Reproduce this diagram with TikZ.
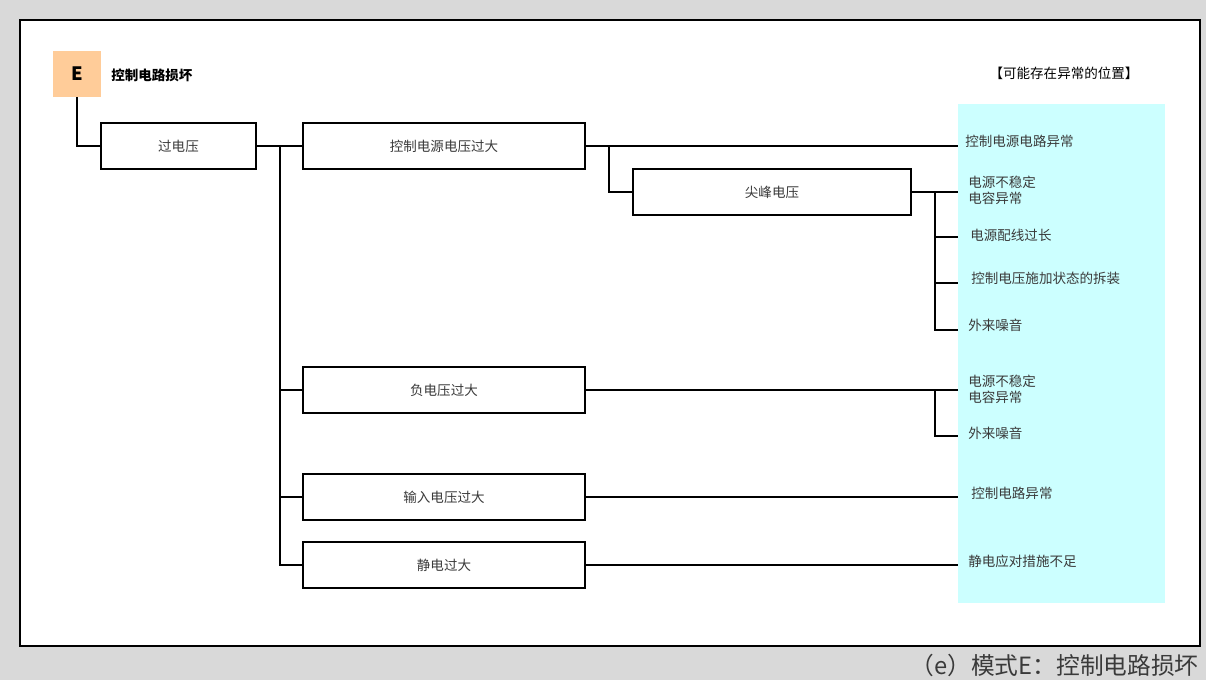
\documentclass[tikz,border=0pt]{standalone}
\usepackage{fontspec}
\setmainfont{Noto Sans CJK SC}
\definecolor{bggray}{HTML}{D9D9D9}
\definecolor{txtgray}{HTML}{3A3A3A}
\definecolor{epink}{HTML}{FFCC99}
\definecolor{zone}{HTML}{CCFFFF}
\begin{document}
\begin{tikzpicture}[
		x=0.02cm, y=-0.02cm,
		box/.style={draw=black, line width=0.7pt, fill=white, inner sep=0pt,
			minimum width=5.64cm, minimum height=0.92cm,
			font=\fontsize{7.7}{9}\selectfont, text=txtgray},
		cause/.style={anchor=west, inner sep=0pt, align=left,
			font=\fontsize{7.7}{9}\selectfont, text=txtgray},
		wire/.style={line width=1.1pt}
		]
		% --- Hintergrund und Rahmen ---
		\fill[bggray] (0,0) rectangle (1206,680);
		\draw[line width=1pt, fill=white] (20,20) rectangle (1200,646);
		\fill[zone] (958,104) rectangle (1165,603);
		\node[anchor=east, inner sep=0pt, font=\fontsize{13.5}{16}\selectfont, text=txtgray] (cap) at (1199,665) {（e）模式E：控制电路损坏};
		% --- Kopf ---
		\node[fill=epink, minimum width=0.96cm, minimum height=0.92cm, inner sep=0pt, font=\bfseries\fontsize{10.5}{12}\selectfont] (E) at (77,74) {E};
		\node[anchor=west, inner sep=0pt, font=\bfseries\fontsize{7.7}{9}\selectfont] (titel) at (111,75) {控制电路损坏};
		\node[inner sep=0pt, font=\fontsize{7.7}{9}\selectfont] (kopf) at (1064,73) {【可能存在异常的位置】};
		% --- Kaesten ---
		\node[box, minimum width=3.1cm] (ov) at (178.5,146) {过电压};
		\node[box] (ctl) at (444,146) {控制电源电压过大};
		\node[box, minimum width=5.56cm] (spk) at (772,192) {尖峰电压};
		\node[box] (neg) at (444,390) {负电压过大};
		\node[box] (inp) at (444,497) {输入电压过大};
		\node[box] (esd) at (444,565) {静电过大};
		% --- Ursachen ---
		\node[cause] (u1) at (965,141) {控制电源电路异常};
		\node[cause, align=left, font=\fontsize{7.7}{9.2}\selectfont] (u2) at (968,190) {电源不稳定\\电容异常};
		\node[cause] (u3) at (970,235) {电源配线过长};
		\node[cause] (u4) at (971,278) {控制电压施加状态的拆装};
		\node[cause] (u5) at (968,325) {外来噪音};
		\node[cause, align=left, font=\fontsize{7.7}{9.2}\selectfont] (u6) at (968,389) {电源不稳定\\电容异常};
		\node[cause] (u7) at (968,433) {外来噪音};
		\node[cause] (u8) at (971,493) {控制电路异常};
		\node[cause] (u9) at (968,561) {静电应对措施不足};
		% --- Enden an der Zone ---
		\coordinate (z1) at (958,146);
		\coordinate (z2) at (958,192);
		\coordinate (z3) at (958,237);
		\coordinate (z4) at (958,283);
		\coordinate (z5) at (958,330);
		\coordinate (z6) at (958,390);
		\coordinate (z7) at (958,436);
		\coordinate (z8) at (958,497);
		\coordinate (z9) at (958,565);
		\coordinate (k0) at (280,146);
		\coordinate (k1) at (609,146);
		\coordinate (k2) at (935,192);
		\coordinate (k3) at (935,390);
		% --- Verbindungen ---
		\draw[wire] (E.south) |- (ov.west);
		\draw[wire] (ov.east) -- (ctl.west);
		\draw[wire] (k0) |- (neg.west);
		\draw[wire] (k0) |- (inp.west);
		\draw[wire] (k0) |- (esd.west);
		\draw[wire] (ctl.east) -- (z1);
		\draw[wire] (k1) |- (spk.west);
		\draw[wire] (spk.east) -- (z2);
		\draw[wire] (k2) |- (z3); \draw[wire] (k2) |- (z4); \draw[wire] (k2) |- (z5);
		\draw[wire] (neg.east) -- (z6);
		\draw[wire] (k3) |- (z7);
		\draw[wire] (inp.east) -- (z8);
		\draw[wire] (esd.east) -- (z9);
	\end{tikzpicture}
\end{document}
